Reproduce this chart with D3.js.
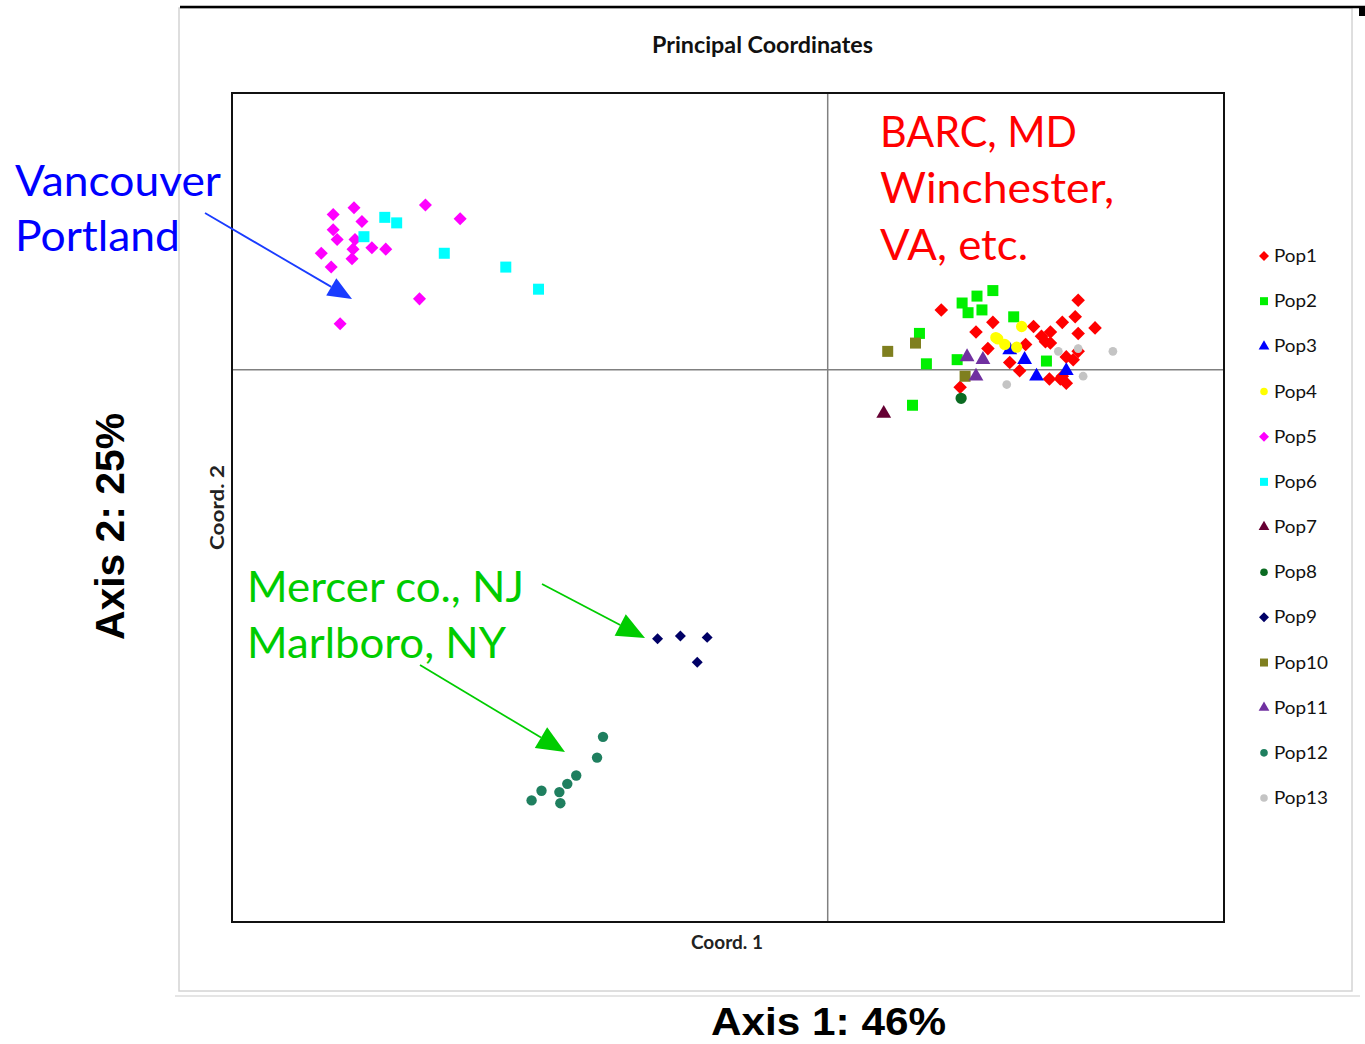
<!DOCTYPE html>
<html><head><meta charset="utf-8">
<script src="https://cdn.jsdelivr.net/npm/d3@7"></script>
<style>body{margin:0;background:#fff}svg{display:block}</style>
</head><body>
<script>
// ---- Data (PCoA coordinates) ----
const popNames = ["Pop1","Pop2","Pop3","Pop4","Pop5","Pop6","Pop7","Pop8","Pop9","Pop10","Pop11","Pop12","Pop13"];
const popColors = ["#ff0000","#00f000","#0000ff","#ffff00","#ff00ff","#00ffff","#660033","#0b6b22","#000066","#7f7f1f","#7030a0","#1f7f5f","#c4c4c4"];
const popShapes = ["diamond","square","triangle","circle","diamond","square","triangle","circle","diamond","square","triangle","circle","circle"];

const pop1X = [0.115,0.167,0.150,0.162,0.134,0.253,0.208,0.237,0.250,0.253,0.270,0.216,0.225,0.220,0.225,0.200,0.184,0.194,0.241,0.248,0.253,0.237,0.224,0.235,0.241];
const pop1Y = [0.043,0.034,0.027,0.015,-0.013,0.050,0.031,0.034,0.038,0.026,0.030,0.024,0.027,0.020,0.019,0.018,0.005,-0.001,0.009,0.007,0.013,-0.005,-0.007,-0.007,-0.010];
const pop2X = [0.136,0.151,0.167,0.142,0.156,0.093,0.100,0.131,0.086,0.188,0.221];
const pop2Y = [0.048,0.053,0.057,0.041,0.043,0.026,0.004,0.007,-0.026,0.038,0.006];
const pop3X = [0.199,0.241,0.211,0.184];
const pop3Y = [0.007,-0.001,-0.005,0.014];
const pop4X = [0.170,0.196,0.172,0.179,0.191];
const pop4Y = [0.023,0.031,0.022,0.018,0.016];
const pop5X = [-0.477,-0.498,-0.469,-0.405,-0.370,-0.498,-0.494,-0.476,-0.478,-0.459,-0.445,-0.510,-0.479,-0.500,-0.411,-0.491];
const pop5Y = [0.117,0.112,0.107,0.119,0.109,0.101,0.094,0.094,0.087,0.088,0.087,0.084,0.080,0.074,0.051,0.033];
const pop6X = [-0.446,-0.434,-0.467,-0.386,-0.324,-0.291];
const pop6Y = [0.110,0.106,0.096,0.084,0.074,0.058];
const pop7X = [0.057];
const pop7Y = [-0.032];
const pop8X = [0.135];
const pop8Y = [-0.021];
const pop9X = [-0.171,-0.148,-0.121,-0.131];
const pop9Y = [-0.195,-0.193,-0.194,-0.212];
const pop10X = [0.061,0.089,0.139];
const pop10Y = [0.013,0.019,-0.005];
const pop11X = [0.141,0.157,0.150];
const pop11Y = [0.009,0.007,-0.005];
const pop12X = [-0.226,-0.232,-0.253,-0.262,-0.270,-0.269,-0.288,-0.298];
const pop12Y = [-0.266,-0.281,-0.294,-0.300,-0.306,-0.314,-0.305,-0.312];
const pop13X = [0.288,0.233,0.253,0.258,0.181];
const pop13Y = [0.013,0.013,0.015,-0.005,-0.011];

const allX = [pop1X,pop2X,pop3X,pop4X,pop5X,pop6X,pop7X,pop8X,pop9X,pop10X,pop11X,pop12X,pop13X];
const allY = [pop1Y,pop2Y,pop3Y,pop4Y,pop5Y,pop6Y,pop7Y,pop8Y,pop9Y,pop10Y,pop11Y,pop12Y,pop13Y];

const xDomain = [-0.6, 0.4];
const yDomain = [-0.4, 0.2];

// ---- Drawing ----
const W = 1365, H = 1044;
const svg = d3.select("body").append("svg").attr("width", W).attr("height", H);
svg.append("rect").attr("width", W).attr("height", H).attr("fill", "#fff");

// chart frame (screenshot of Excel chart)
svg.append("rect").attr("x", 179).attr("y", 8).attr("width", 1173).attr("height", 983)
  .attr("fill", "none").attr("stroke", "#d4d4d4").attr("stroke-width", 1.5);
svg.append("line").attr("x1", 175).attr("x2", 1360).attr("y1", 996).attr("y2", 996)
  .attr("stroke", "#dcdcdc").attr("stroke-width", 1.5);
svg.append("line").attr("x1", 180).attr("x2", 1365).attr("y1", 7).attr("y2", 7)
  .attr("stroke", "#000").attr("stroke-width", 2.5);
svg.append("rect").attr("x", 1359).attr("y", 7).attr("width", 6).attr("height", 9).attr("fill", "#000");

const plot = {l: 232, r: 1224, t: 93, b: 922};
const x = d3.scaleLinear().domain(xDomain).range([plot.l, plot.r]);
const y = d3.scaleLinear().domain(yDomain).range([plot.b, plot.t]);

// zero lines via axes with no ticks
svg.append("g").attr("transform", `translate(0,${y(0)})`)
  .call(d3.axisBottom(x).tickValues([]).tickSizeOuter(0))
  .call(g => g.select(".domain").attr("stroke", "#808080").attr("stroke-width", 1.5));
svg.append("g").attr("transform", `translate(${x(0)},0)`)
  .call(d3.axisLeft(y).tickValues([]).tickSizeOuter(0))
  .call(g => g.select(".domain").attr("stroke", "#808080").attr("stroke-width", 1.5));

svg.append("rect").attr("x", plot.l).attr("y", plot.t)
  .attr("width", plot.r - plot.l).attr("height", plot.b - plot.t)
  .attr("fill", "none").attr("stroke", "#111").attr("stroke-width", 2);

const diamond45 = { draw(ctx, size) { const r = Math.sqrt(size / 2);
  ctx.moveTo(0, -r); ctx.lineTo(r, 0); ctx.lineTo(0, r); ctx.lineTo(-r, 0); ctx.closePath(); } };
const shapeType = {diamond: diamond45, square: d3.symbolSquare, triangle: d3.symbolTriangle, circle: d3.symbolCircle};
const shapeSize = {diamond: 92, square: 121, triangle: 95, circle: 100};
const sizeOverride = {8: 60, 11: 85, 12: 60, 4: 85};

popNames.forEach((name, i) => {
  const pts = allX[i].map((v, j) => ({x: v, y: allY[i][j]}));
  const sz = sizeOverride[i] || shapeSize[popShapes[i]];
  const sym = d3.symbol().type(shapeType[popShapes[i]]).size(sz);
  svg.append("g").selectAll("path").data(pts).join("path")
    .attr("d", sym)
    .attr("transform", d => `translate(${x(d.x)},${y(d.y)})`)
    .attr("fill", popColors[i]);
});

// legend
const legY0 = 256, legStep = 45.17;
const leg = svg.append("g");
popNames.forEach((name, i) => {
  const cy = legY0 + i * legStep;
  const shp = popShapes[i];
  const sym = d3.symbol().type(shapeType[shp]).size(shp === "square" ? 64 : (shp === "circle" ? 45 : 50));
  leg.append("path").attr("d", sym).attr("transform", `translate(1264,${cy})`).attr("fill", popColors[i]);
  leg.append("text").attr("x", 1274).attr("y", cy + 6)
    .attr("font-family", "Lato, 'Open Sans', sans-serif").attr("font-size", 17)
    .attr("textLength", name.length > 4 ? 54 : 43).attr("lengthAdjust", "spacingAndGlyphs")
    .attr("fill", "#111").text(name);
});

// titles
const calib = "Lato, 'Open Sans', sans-serif";
svg.append("text").attr("x", 652).attr("y", 53).attr("font-family", calib).attr("font-weight", "bold")
  .attr("font-size", 23).attr("textLength", 221).attr("lengthAdjust", "spacingAndGlyphs")
  .attr("fill", "#111").text("Principal Coordinates");
svg.append("text").attr("x", 691).attr("y", 949).attr("font-family", calib).attr("font-weight", "bold")
  .attr("font-size", 19).attr("textLength", 72).attr("lengthAdjust", "spacingAndGlyphs")
  .attr("fill", "#222").text("Coord. 1");
svg.append("text").attr("transform", "translate(224,550) rotate(-90)").attr("font-family", calib)
  .attr("font-weight", "bold").attr("font-size", 19).attr("textLength", 85).attr("lengthAdjust", "spacingAndGlyphs")
  .attr("fill", "#222").text("Coord. 2");

const arial = "'Liberation Sans', Arial, sans-serif";
svg.append("text").attr("x", 711).attr("y", 1035).attr("font-family", arial).attr("font-weight", "bold")
  .attr("font-size", 39).attr("textLength", 235).attr("lengthAdjust", "spacingAndGlyphs")
  .attr("fill", "#000").text("Axis 1: 46%");
svg.append("text").attr("transform", "translate(124,640) rotate(-90)").attr("font-family", arial)
  .attr("font-weight", "bold").attr("font-size", 41).attr("textLength", 227).attr("lengthAdjust", "spacingAndGlyphs")
  .attr("fill", "#000").text("Axis 2: 25%");

// annotations
const notes = [
  {t: "Vancouver", x: 15, y: 196, w: 206, c: "#0000ff"},
  {t: "Portland", x: 15, y: 251, w: 165, c: "#0000ff"},
  {t: "BARC, MD", x: 880, y: 147, w: 197, c: "#ff0000"},
  {t: "Winchester,", x: 880, y: 203, w: 234, c: "#ff0000"},
  {t: "VA, etc.", x: 880, y: 260, w: 148, c: "#ff0000"},
  {t: "Mercer co., NJ", x: 247, y: 602, w: 277, c: "#00cc00"},
  {t: "Marlboro, NY", x: 247, y: 658, w: 259, c: "#00cc00"}
];
notes.forEach(n => svg.append("text").attr("x", n.x).attr("y", n.y).attr("font-family", calib)
  .attr("font-size", 42).attr("textLength", n.w).attr("lengthAdjust", "spacingAndGlyphs")
  .attr("fill", n.c).text(n.t));

function arrow(x1, y1, x2, y2, color, hl, hw) {
  const a = Math.atan2(y2 - y1, x2 - x1);
  const bx = x2 - hl * Math.cos(a), by = y2 - hl * Math.sin(a);
  svg.append("line").attr("x1", x1).attr("y1", y1).attr("x2", bx).attr("y2", by)
    .attr("stroke", color).attr("stroke-width", 1.8);
  const px = -Math.sin(a) * hw / 2, py = Math.cos(a) * hw / 2;
  svg.append("path").attr("d", `M${x2},${y2}L${bx + px},${by + py}L${bx - px},${by - py}Z`).attr("fill", color);
}
arrow(205, 213, 352, 299, "#1a3cff", 24, 20);
arrow(542, 584, 645, 638, "#00cc00", 28, 24);
arrow(420, 665, 565, 752, "#00cc00", 28, 24);
</script>
</body></html>
